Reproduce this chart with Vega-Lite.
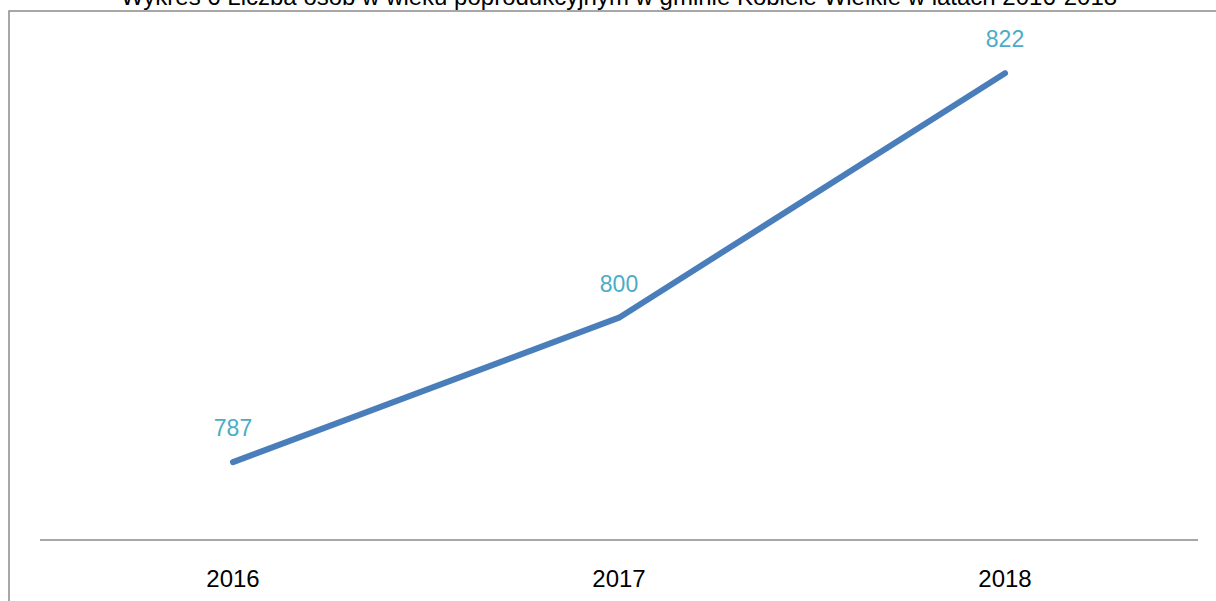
{
  "$schema": "https://vega.github.io/schema/vega-lite/v6.json",
  "autosize": {"type": "none"},
  "padding": {"left": 9, "top": 11, "right": 0, "bottom": 0},
  "width": 1220,
  "height": 600,
  "background": "white",
  "config": {
    "view": {"stroke": "#8a8a8a", "strokeWidth": 1.5},
    "font": "Liberation Sans"
  },
  "title": {
    "text": "Wykres 6 Liczba osób w wieku poprodukcyjnym w gminie Kobiele Wielkie w latach 2016-2018",
    "anchor": "middle",
    "fontSize": 24,
    "fontWeight": "normal",
    "color": "#000000",
    "font": "Liberation Sans",
    "baseline": "bottom",
    "offset": 1,
    "dy": 24
  },
  "data": {
    "values": [
      {"year": "2016", "value": 787, "base": 780},
      {"year": "2017", "value": 800, "base": 780},
      {"year": "2018", "value": 822, "base": 780}
    ]
  },
  "layer": [
    {
      "mark": {"type": "tick", "orient": "horizontal", "color": "#8a8a8a", "thickness": 1.5, "bandSize": 1, "opacity": 1},
      "encoding": {
        "x": {
          "field": "year",
          "type": "nominal",
          "sort": null,
          "scale": {"type": "band", "paddingInner": 0, "paddingOuter": 0.0803},
          "axis": {
            "title": null,
            "domain": false,
            "ticks": false,
            "grid": false,
            "offset": -71,
            "labelPadding": 27,
            "labelFontSize": 24,
            "labelColor": "#000000",
            "labelAngle": 0,
            "labelFont": "Liberation Sans"
          }
        },
        "y": {
          "field": "base",
          "type": "quantitative",
          "scale": {"domain": [773.6, 827.6], "nice": false, "zero": false},
          "axis": null
        }
      }
    },
    {
      "mark": {"type": "line", "color": "#4A7EBB", "strokeWidth": 6, "strokeCap": "round", "strokeJoin": "round"},
      "encoding": {
        "x": {"field": "year", "type": "nominal", "sort": null},
        "y": {"field": "value", "type": "quantitative"}
      }
    },
    {
      "mark": {"type": "text", "color": "#4BACC6", "fontSize": 23, "dy": -33, "font": "Liberation Sans"},
      "encoding": {
        "x": {"field": "year", "type": "nominal", "sort": null},
        "y": {"field": "value", "type": "quantitative"},
        "text": {"field": "value", "type": "quantitative"}
      }
    }
  ]
}
